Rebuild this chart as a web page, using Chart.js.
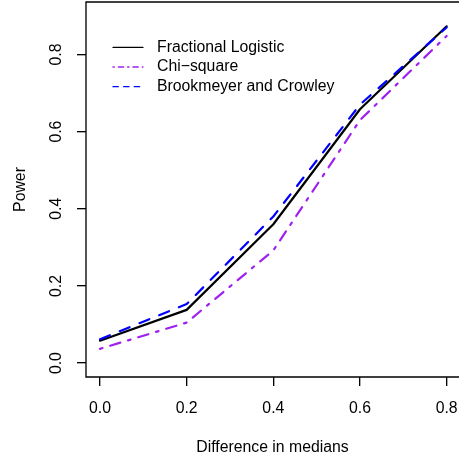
<!DOCTYPE html>
<html>
<head>
<meta charset="utf-8">
<script src="https://cdn.jsdelivr.net/npm/chart.js@4/dist/chart.umd.min.js"></script>
<style>
html,body{margin:0;padding:0;background:#fff;}
#wrap{width:459px;height:457px;}
</style>
</head>
<body>
<div id="wrap"><canvas id="c" width="459" height="457"></canvas></div>
<script>
// ---- data ----
const medianDiffs = [0.0, 0.2, 0.4, 0.6, 0.8];
const fractionalLogistic = [0.058, 0.138, 0.360, 0.658, 0.873];
const chiSquare = [0.037, 0.105, 0.292, 0.630, 0.848];
const brookmeyerCrowley = [0.062, 0.153, 0.380, 0.670, 0.870];
const xTickValues = [0.0, 0.2, 0.4, 0.6, 0.8];
const yTickValues = [0.0, 0.2, 0.4, 0.6, 0.8];
const seriesNames = ["Fractional Logistic", "Chi\u2212square", "Brookmeyer and Crowley"];
const xTitle = "Difference in medians";
const yTitle = "Power";

const FONT = '"Liberation Sans", Arial, Helvetica, sans-serif';
const FS = 15.8;
const U = 1.33; // R line-width unit

const toPts = arr => medianDiffs.map((x, i) => ({x: x, y: arr[i]}));

const styles = [
  {color: '#000000', dash: []},
  {color: '#A020F0', dash: [1, 3, 4, 3]},
  {color: '#0000FF', dash: [4, 4]}
];
const dataLW = 2.2;

const datasets = [fractionalLogistic, chiSquare, brookmeyerCrowley].map((arr, i) => ({
  label: seriesNames[i],
  data: toPts(arr),
  borderColor: styles[i].color,
  backgroundColor: styles[i].color,
  borderWidth: dataLW,
  borderDash: styles[i].dash.map(d => d * 2 * U),
  borderCapStyle: 'round',
  borderJoinStyle: 'round',
  pointRadius: 0,
  tension: 0,
  fill: false,
  order: 3 - i
}));

const boxPlugin = {
  id: 'rbox',
  afterDraw(chart) {
    const {ctx, chartArea: a, scales} = chart;
    ctx.save();
    ctx.strokeStyle = '#000';
    ctx.lineWidth = U;
    ctx.beginPath();
    ctx.moveTo(a.right + 2, a.top);
    ctx.lineTo(a.left, a.top);
    ctx.lineTo(a.left, a.bottom);
    ctx.lineTo(a.right + 2, a.bottom);
    ctx.stroke();
    const ys = scales.y;
    ctx.fillStyle = '#000';
    ctx.font = FS + 'px ' + FONT;
    ctx.textAlign = 'center';
    ctx.textBaseline = 'middle';
    ys.ticks.forEach(t => {
      const py = ys.getPixelForValue(t.value);
      ctx.save();
      ctx.translate(a.left - 29, py);
      ctx.rotate(-Math.PI / 2);
      ctx.fillText(t.value.toFixed(1), 0, 0);
      ctx.restore();
    });
    const lx0 = 113, lx1 = 143, tx = 157, y0 = 47.3, dy = 19.7;
    seriesNames.forEach((name, i) => {
      const y = y0 + i * dy;
      ctx.save();
      ctx.strokeStyle = styles[i].color;
      ctx.lineWidth = U;
      ctx.lineCap = 'round';
      ctx.setLineDash(styles[i].dash.map(d => d * U));
      ctx.beginPath();
      ctx.moveTo(lx0, y);
      ctx.lineTo(lx1, y);
      ctx.stroke();
      ctx.restore();
      ctx.fillStyle = '#000';
      ctx.textAlign = 'left';
      ctx.textBaseline = 'middle';
      ctx.fillText(name, tx, y);
    });
    ctx.restore();
  }
};

new Chart(document.getElementById('c'), {
  type: 'line',
  data: {datasets: datasets},
  options: {
    responsive: false,
    animation: false,
    events: [],
    layout: {padding: {left: 0, top: 2, right: 0, bottom: 0}},
    plugins: {legend: {display: false}, tooltip: {enabled: false}},
    scales: {
      x: {
        type: 'linear',
        min: -0.0323,
        max: 0.8285,
        afterBuildTicks: s => { s.ticks = xTickValues.map(v => ({value: v})); },
        afterFit: s => { s.height = 80; s.paddingLeft = 0; s.paddingRight = 0; },
        border: {display: false},
        grid: {display: true, drawOnChartArea: false, drawTicks: true, tickLength: 9, color: '#000', lineWidth: U},
        ticks: {
          color: '#000',
          font: {family: FONT, size: FS},
          padding: 13,
          maxRotation: 0,
          minRotation: 0,
          callback: v => Number(v).toFixed(1)
        },
        title: {display: true, text: xTitle, color: '#000', font: {family: FONT, size: FS}, padding: {top: 0, bottom: 0}}
      },
      y: {
        type: 'linear',
        min: -0.036,
        max: 0.936,
        afterBuildTicks: s => { s.ticks = yTickValues.map(v => ({value: v})); },
        afterFit: s => { s.width = 86; s.paddingTop = 0; s.paddingBottom = 0; },
        border: {display: false},
        grid: {display: true, drawOnChartArea: false, drawTicks: true, tickLength: 9, color: '#000', lineWidth: U},
        ticks: {display: false},
        title: {display: true, text: yTitle, color: '#000', font: {family: FONT, size: FS}, padding: {top: 11, bottom: 0}}
      }
    }
  },
  plugins: [boxPlugin]
});
</script>
</body>
</html>
